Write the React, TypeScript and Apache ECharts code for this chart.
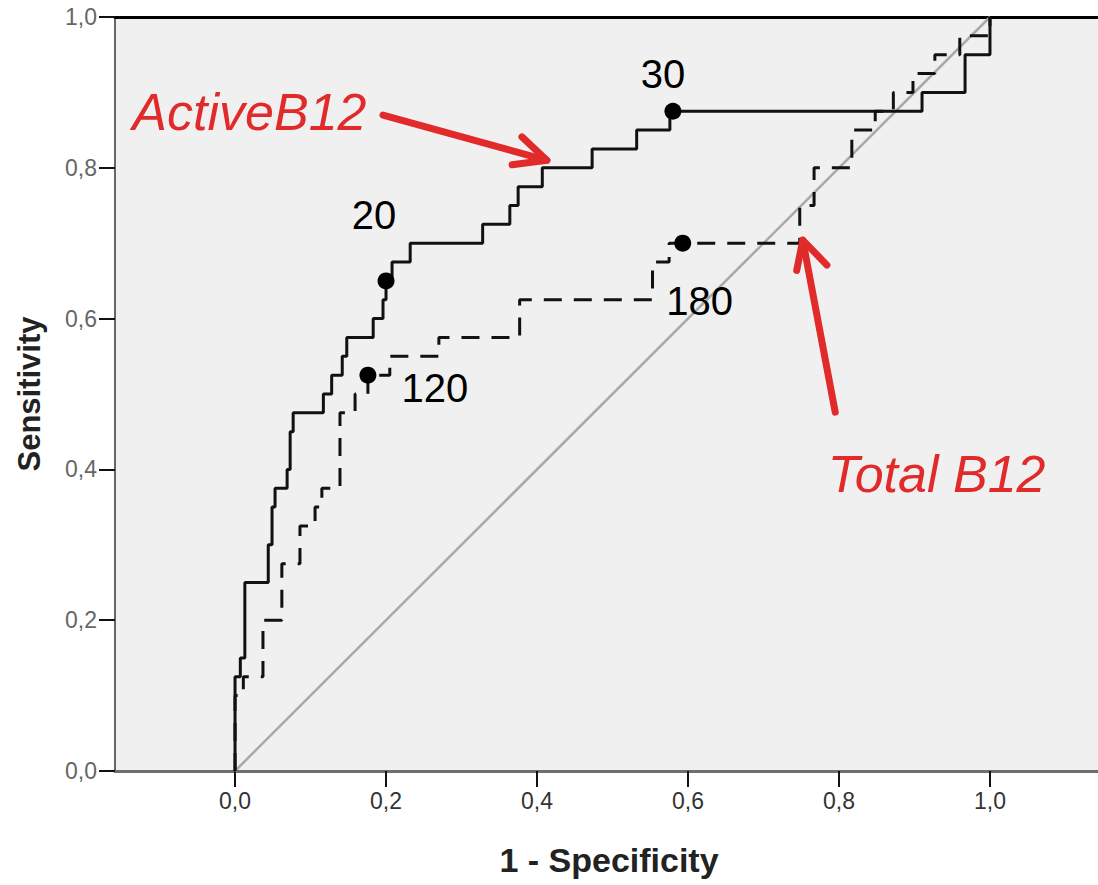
import React, { useEffect, useRef } from "react";
import * as echarts from "echarts";

// ---- data ----
const xTicks = [0, 0.2, 0.4, 0.6, 0.8, 1.0];

const activeFpr = [0, 0, 0.007, 0.007, 0.013, 0.013, 0.044, 0.044, 0.049, 0.049, 0.053, 0.053, 0.069, 0.069, 0.073, 0.073, 0.077, 0.077, 0.117, 0.117, 0.128, 0.128, 0.142, 0.142, 0.148, 0.148, 0.183, 0.183, 0.196, 0.196, 0.2, 0.2, 0.208, 0.208, 0.232, 0.232, 0.328, 0.328, 0.364, 0.364, 0.375, 0.375, 0.407, 0.407, 0.473, 0.473, 0.532, 0.532, 0.576, 0.576, 0.91, 0.91, 0.967, 0.967, 1, 1];
const activeTpr = [0, 0.125, 0.125, 0.15, 0.15, 0.25, 0.25, 0.3, 0.3, 0.35, 0.35, 0.375, 0.375, 0.4, 0.4, 0.45, 0.45, 0.475, 0.475, 0.5, 0.5, 0.525, 0.525, 0.55, 0.55, 0.575, 0.575, 0.6, 0.6, 0.625, 0.625, 0.65, 0.65, 0.675, 0.675, 0.7, 0.7, 0.725, 0.725, 0.75, 0.75, 0.775, 0.775, 0.8, 0.8, 0.825, 0.825, 0.85, 0.85, 0.875, 0.875, 0.9, 0.9, 0.95, 0.95, 1];

const totalFpr = [0, 0, 0.011, 0.011, 0.037, 0.037, 0.062, 0.062, 0.086, 0.086, 0.106, 0.106, 0.115, 0.115, 0.139, 0.139, 0.159, 0.159, 0.176, 0.176, 0.205, 0.205, 0.27, 0.27, 0.377, 0.377, 0.553, 0.553, 0.575, 0.575, 0.748, 0.748, 0.767, 0.767, 0.817, 0.817, 0.848, 0.848, 0.872, 0.872, 0.898, 0.898, 0.927, 0.927, 0.96, 0.96, 1, 1];
const totalTpr = [0, 0.1, 0.1, 0.125, 0.125, 0.2, 0.2, 0.275, 0.275, 0.325, 0.325, 0.35, 0.35, 0.375, 0.375, 0.475, 0.475, 0.5, 0.5, 0.525, 0.525, 0.55, 0.55, 0.575, 0.575, 0.625, 0.625, 0.675, 0.675, 0.7, 0.7, 0.75, 0.75, 0.8, 0.8, 0.85, 0.85, 0.875, 0.875, 0.9, 0.9, 0.925, 0.925, 0.95, 0.95, 0.975, 0.975, 1];

const referenceLine = [[0, 0], [1, 1]];

const cutoffLabels = ["20", "30", "120", "180"];
const cutoffFpr = [0.2, 0.58, 0.176, 0.593];
const cutoffTpr = [0.65, 0.875, 0.525, 0.7];

const activeArrowShaft = [[0.196, 0.87], [0.413, 0.81]];
const activeArrowHead = [[0.38, 0.841], [0.413, 0.81], [0.367, 0.804]];
const totalArrowShaft = [[0.795, 0.476], [0.752, 0.704]];
const totalArrowHead = [[0.784, 0.671], [0.752, 0.704], [0.744, 0.664]];

const annotationTexts = ["ActiveB12", "Total B12"];
const annotationAnchors = [[-0.136, 0.874], [0.785, 0.394]];

const zip = (a: number[], b: number[]) => a.map((v, i) => [v, b[i]]);
const fmt = (v: number) => v.toFixed(1).replace(".", ",");

const RED = "#e12a2a";
const SANS = '"Liberation Sans", Arial, sans-serif';

// label offsets for cutoff points (pixels)
const labelOffsets = [[-12, -66], [-10, -37], [67, 13], [17, 58]];

export default function App() {
  const ref = useRef<HTMLDivElement>(null);
  useEffect(() => {
    document.body.style.margin = "0";
    if (!ref.current) return;
    const chart = echarts.init(ref.current, undefined, { renderer: "svg" });
    const arrowSeries = (data: number[][]) => ({
      type: "line",
      data,
      symbol: "none",
      silent: true,
      z: 5,
      lineStyle: { color: RED, width: 7, cap: "round", join: "round" },
    });
    chart.setOption({
      animation: false,
      backgroundColor: "#ffffff",
      grid: {
        left: 115,
        top: 17,
        width: 988,
        height: 754,
        show: true,
        backgroundColor: "#f0f0f0",
        borderWidth: 0,
        containLabel: false,
        outerBoundsMode: "none",
      },
      xAxis: [
        {
          type: "value",
          min: -0.159,
          max: 1.1497,
          axisLine: { show: true, onZero: false, lineStyle: { color: "#6e6e6e", width: 3 } },
          axisTick: { show: true, customValues: xTicks, length: 16, lineStyle: { color: "#111", width: 2 } },
          axisLabel: {
            customValues: xTicks,
            formatter: fmt,
            margin: 18,
            fontSize: 23,
            color: "#333",
            fontFamily: SANS,
          },
          splitLine: { show: false },
          name: "1 - Specificity",
          nameLocation: "middle",
          nameGap: 72,
          nameTextStyle: { fontSize: 34, fontWeight: "bold", color: "#222", fontFamily: SANS },
        },
        {
          type: "value",
          position: "top",
          min: -0.159,
          max: 1.1497,
          axisLine: { show: true, onZero: false, lineStyle: { color: "#000", width: 3 } },
          axisTick: { show: false },
          axisLabel: { show: false },
          splitLine: { show: false },
        },
      ],
      yAxis: {
        type: "value",
        min: 0,
        max: 1,
        interval: 0.2,
        axisLine: { show: true, onZero: false, lineStyle: { color: "#666", width: 2 } },
        axisTick: { show: true, length: 16, lineStyle: { color: "#111", width: 2 } },
        axisLabel: { formatter: fmt, margin: 18, fontSize: 23, color: "#666", fontFamily: SANS },
        splitLine: { show: false },
        name: "Sensitivity",
        nameLocation: "middle",
        nameGap: 70,
        nameTextStyle: { fontSize: 31, fontWeight: "bold", color: "#222", fontFamily: SANS },
      },
      series: [
        {
          type: "line",
          data: referenceLine,
          symbol: "none",
          silent: true,
          lineStyle: { color: "#a9a9a9", width: 2.5 },
          z: 1,
        },
        {
          type: "line",
          data: zip(totalFpr, totalTpr),
          symbol: "none",
          silent: true,
          lineStyle: { color: "#111", width: 3, type: [18, 12] },
          z: 2,
        },
        {
          type: "line",
          data: zip(activeFpr, activeTpr),
          symbol: "none",
          silent: true,
          lineStyle: { color: "#111", width: 3 },
          z: 3,
        },
        {
          type: "scatter",
          symbolSize: 17,
          itemStyle: { color: "#000", opacity: 1 },
          z: 4,
          data: cutoffLabels.map((name, i) => ({
            name,
            value: [cutoffFpr[i], cutoffTpr[i]],
            label: {
              show: true,
              position: "inside",
              offset: labelOffsets[i],
              formatter: name,
              fontSize: 40,
              color: "#000",
              opacity: 1,
              textBorderWidth: 0,
              fontFamily: SANS,
            },
          })),
        },
        arrowSeries(activeArrowShaft),
        arrowSeries(activeArrowHead),
        arrowSeries(totalArrowShaft),
        arrowSeries(totalArrowHead),
      ],
    });
    const graphics = annotationTexts.map((t, i) => {
      const p = chart.convertToPixel({ gridIndex: 0 } as any, annotationAnchors[i]) as number[];
      return {
        type: "text",
        x: p[0],
        y: p[1],
        z: 10,
        style: {
          text: t,
          fill: RED,
          fontSize: 52,
          fontStyle: "italic",
          fontFamily: SANS,
          verticalAlign: "middle",
          align: "left",
        },
      };
    });
    chart.setOption({ graphic: graphics });
    return () => chart.dispose();
  }, []);
  return <div ref={ref} style={{ width: 1098, height: 885 }} />;
}
